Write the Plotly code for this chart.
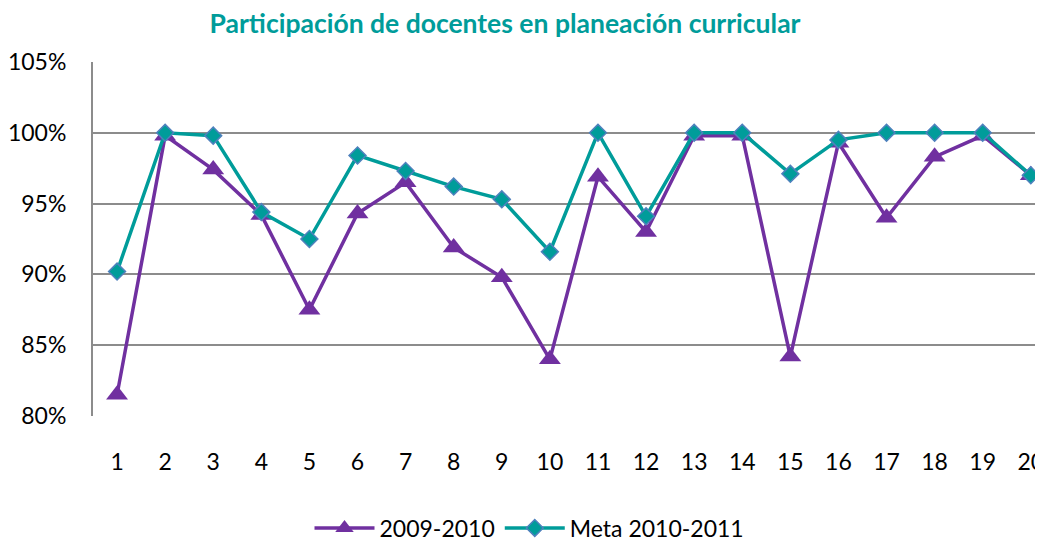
import plotly.graph_objects as go

categories = list(range(1, 21))
serie_2009_2010 = [81.5, 99.8, 97.4, 94.2, 87.5, 94.3, 96.5, 91.9, 89.8, 84.0,
                   96.9, 93.0, 99.8, 99.8, 84.2, 99.3, 94.0, 98.3, 99.8, 97.0]
meta_2010_2011 = [90.2, 100.0, 99.8, 94.4, 92.5, 98.4, 97.3, 96.2, 95.3, 91.6,
                  100.0, 94.1, 100.0, 100.0, 97.1, 99.5, 100.0, 100.0, 100.0, 97.0]
y_ticks = [80, 85, 90, 95, 100, 105]
y_tick_labels = ["80%", "85%", "90%", "95%", "100%", "105%"]

PURPLE = "#7030A0"
TEAL = "#009C9A"
FONT = "Lato"

# the page shows the figure offset by the browser's default 8px body margin
OFF = 8

fig = go.Figure()
fig.add_trace(go.Scatter(
    x=categories, y=serie_2009_2010, name="2009-2010", mode="lines+markers",
    line=dict(color=PURPLE, width=3.5),
    marker=dict(symbol="triangle-up", size=19, color=PURPLE, line=dict(width=0)),
    cliponaxis=False,
))
fig.add_trace(go.Scatter(
    x=categories, y=meta_2010_2011, name="Meta 2010-2011", mode="lines+markers",
    line=dict(color=TEAL, width=3.5),
    marker=dict(symbol="diamond", size=13, color=TEAL, line=dict(width=1.5, color="#4F81BD")),
    cliponaxis=False,
))

fig.update_layout(
    width=1043, height=540,
    margin=dict(l=93 - OFF, r=0, t=62 - OFF, b=540 - 416 + OFF, autoexpand=False),
    paper_bgcolor="white", plot_bgcolor="white",
    font=dict(family=FONT, size=23, color="#000000"),
    title=dict(text="<b>Participación de docentes en planeación curricular</b>",
               x=(505 - OFF) / 1043, xanchor="center", xref="container",
               y=1 - (24 - OFF) / 540, yanchor="middle", yref="container",
               font=dict(family=FONT, size=26.5, color=TEAL)),
    showlegend=True,
    legend=dict(orientation="h", x=0.5, xanchor="center", xref="container",
                y=(540 - (528 - OFF)) / 540, yanchor="middle", yref="container",
                font=dict(family=FONT, size=23), itemwidth=60, traceorder="normal"),
    xaxis=dict(range=[0.5, 20.42], tickvals=categories, ticktext=[str(c) for c in categories],
               showgrid=False, zeroline=False, showline=False, ticks="",
               automargin=False, ticklabeloverflow="allow",
               tickfont=dict(family=FONT, size=23), ticklabelstandoff=30),
    yaxis=dict(range=[80, 105], tickvals=y_ticks, ticktext=y_tick_labels,
               showgrid=True, gridcolor="#8C8C8C", gridwidth=2,
               zeroline=False, showline=True, linecolor="#8C8C8C", linewidth=2,
               automargin=False,
               ticks="", tickfont=dict(family=FONT, size=23), ticklabelstandoff=20),
)

fig.write_html("out.html")
